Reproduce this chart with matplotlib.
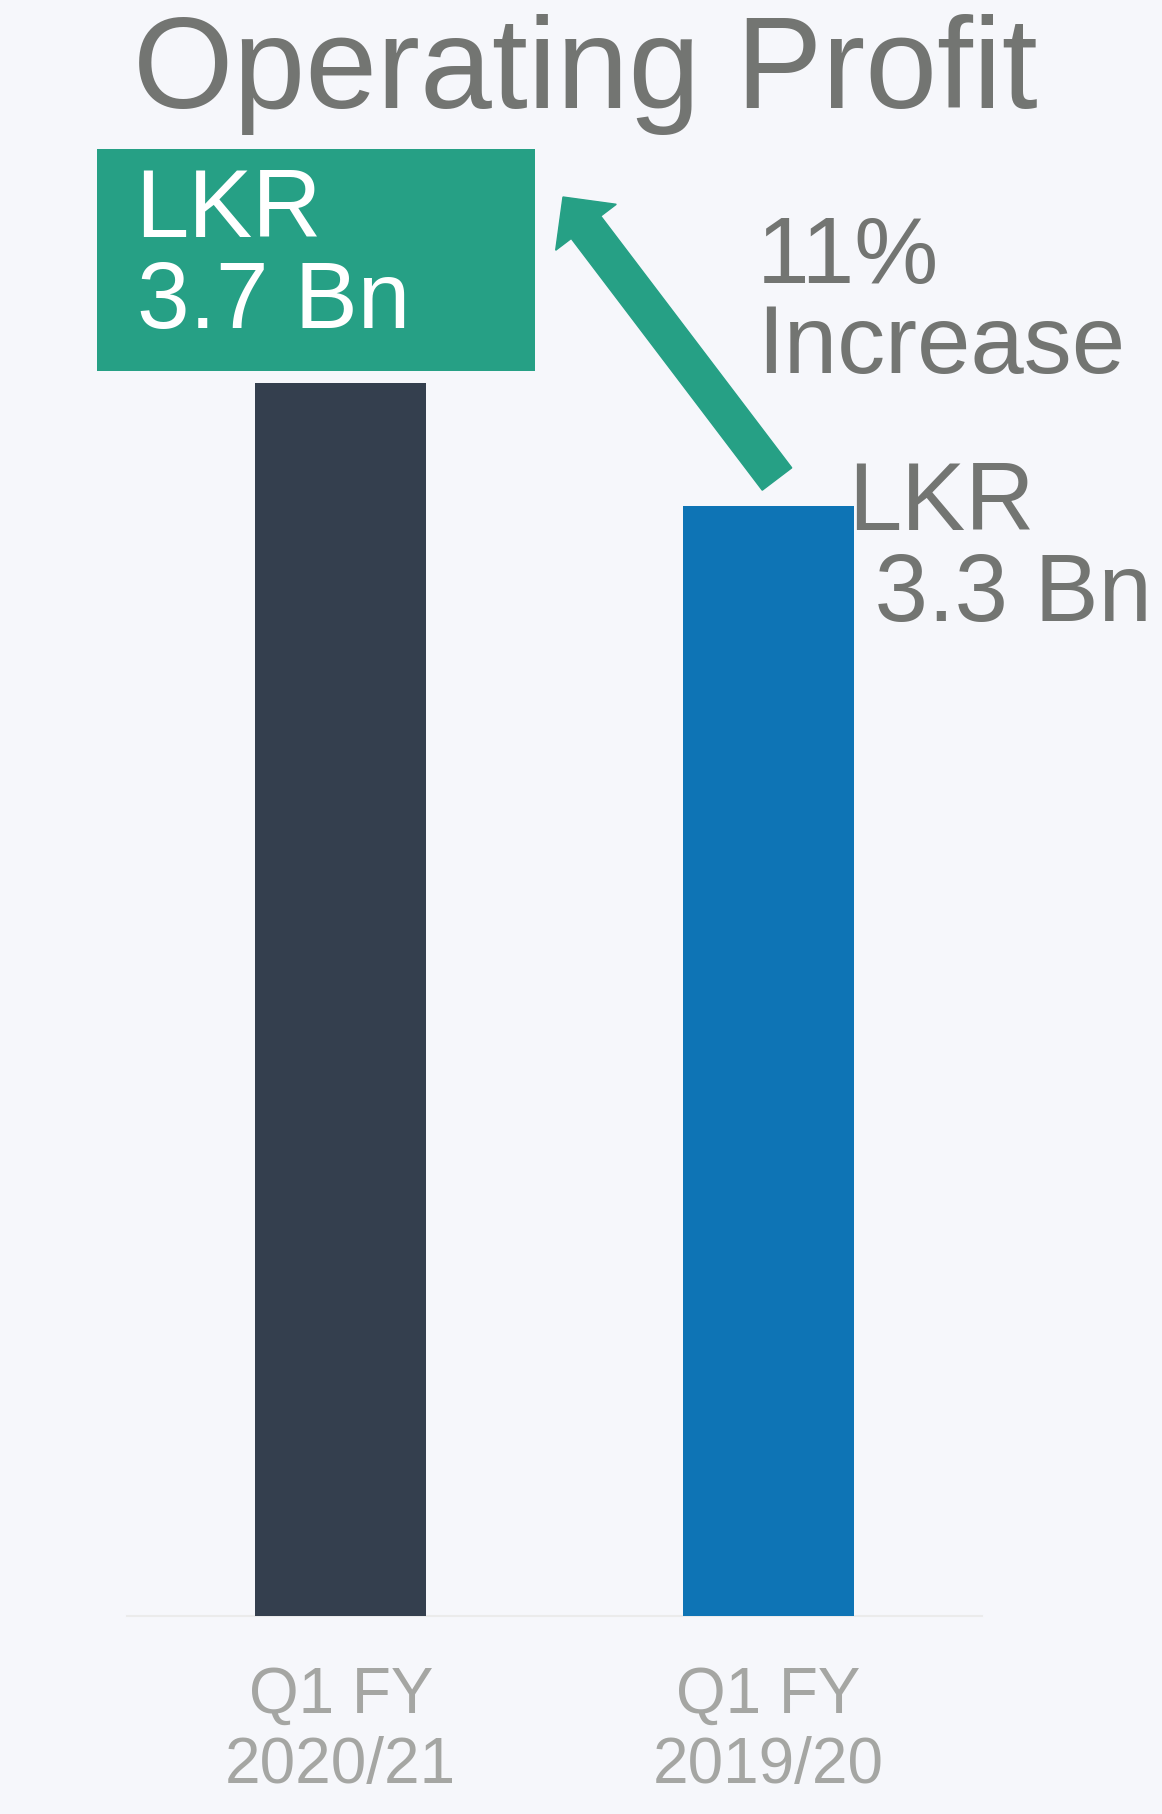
import matplotlib
matplotlib.use("Agg")
import matplotlib.pyplot as plt
import matplotlib.patches as patches

# Data
categories = ["Q1 FY\n2020/21", "Q1 FY\n2019/20"]
values = [3.70, 3.33]          # LKR Bn
bar_colors = ["#343F4E", "#0E74B5"]
value_labels = [["LKR", "3.7 Bn"], ["LKR", " 3.3 Bn"]]
change_label = ["11%", "Increase"]
title = "Operating Profit"

# Style
W, H = 1162, 1814
BG = "#F6F7FB"
GREEN = "#26A085"
GRAY = "#737572"
TICK_GRAY = "#A5A6A3"
plt.rcParams['font.family'] = ['Liberation Sans', 'DejaVu Sans']


def fx(x):
    return x / W


def fy(y):
    return 1 - y / H


fig = plt.figure(figsize=(W / 100, H / 100), dpi=100, facecolor=BG)
ax = fig.add_axes([fx(127), fy(1616), fx(982) - fx(127), fy(0) - fy(1616)])
ax.set_facecolor(BG)

ax.bar(range(len(values)), values, width=0.4, color=bar_colors, zorder=3)
ax.set_xlim(-0.5, 1.5)
ax.set_ylim(0, values[0] * 1616 / 1233)

for side in ['top', 'left', 'right']:
    ax.spines[side].set_visible(False)
ax.spines['bottom'].set_color("#EBEBEB")
ax.spines['bottom'].set_linewidth(1.5)
ax.set_yticks([])
ax.set_xticks(range(len(categories)), categories)
ax.tick_params(axis='x', length=0, pad=36, labelsize=46, labelcolor=TICK_GRAY)
for lbl in ax.get_xticklabels():
    lbl.set_linespacing(1.22)

# title
fig.text(fx(585), fy(108), title, ha='center', va='baseline', fontsize=93, color=GRAY)

# highlight box with current value
fig.patches.append(patches.Rectangle((fx(97), fy(371)), fx(535) - fx(97), fy(149) - fy(371),
                                     transform=fig.transFigure, facecolor=GREEN,
                                     edgecolor='none', zorder=1))
fig.text(fx(135), fy(237), value_labels[0][0], ha='left', va='baseline', fontsize=69, color='white')
fig.text(fx(137), fy(328), value_labels[0][1], ha='left', va='baseline', fontsize=68, color='white')

# prior year label
fig.text(fx(848), fy(530), value_labels[1][0], ha='left', va='baseline', fontsize=69, color=GRAY)
fig.text(fx(848), fy(621), value_labels[1][1], ha='left', va='baseline', fontsize=69, color=GRAY)

# change label
fig.text(fx(757), fy(283), change_label[0], ha='left', va='baseline', fontsize=68, color=GRAY)
fig.text(fx(757), fy(373), change_label[1], ha='left', va='baseline', fontsize=69, color=GRAY)

# arrow (in inches)
tail = (777 / 100, (H - 479) / 100)
tip = (563 / 100, (H - 197) / 100)
arrow = patches.FancyArrow(tail[0], tail[1], tip[0] - tail[0], tip[1] - tail[1],
                           width=0.37, head_width=0.76, head_length=0.38,
                           length_includes_head=True, color=GREEN,
                           transform=fig.dpi_scale_trans, zorder=5)
fig.patches.append(arrow)

fig.savefig("out.png", dpi=100, facecolor=BG)
